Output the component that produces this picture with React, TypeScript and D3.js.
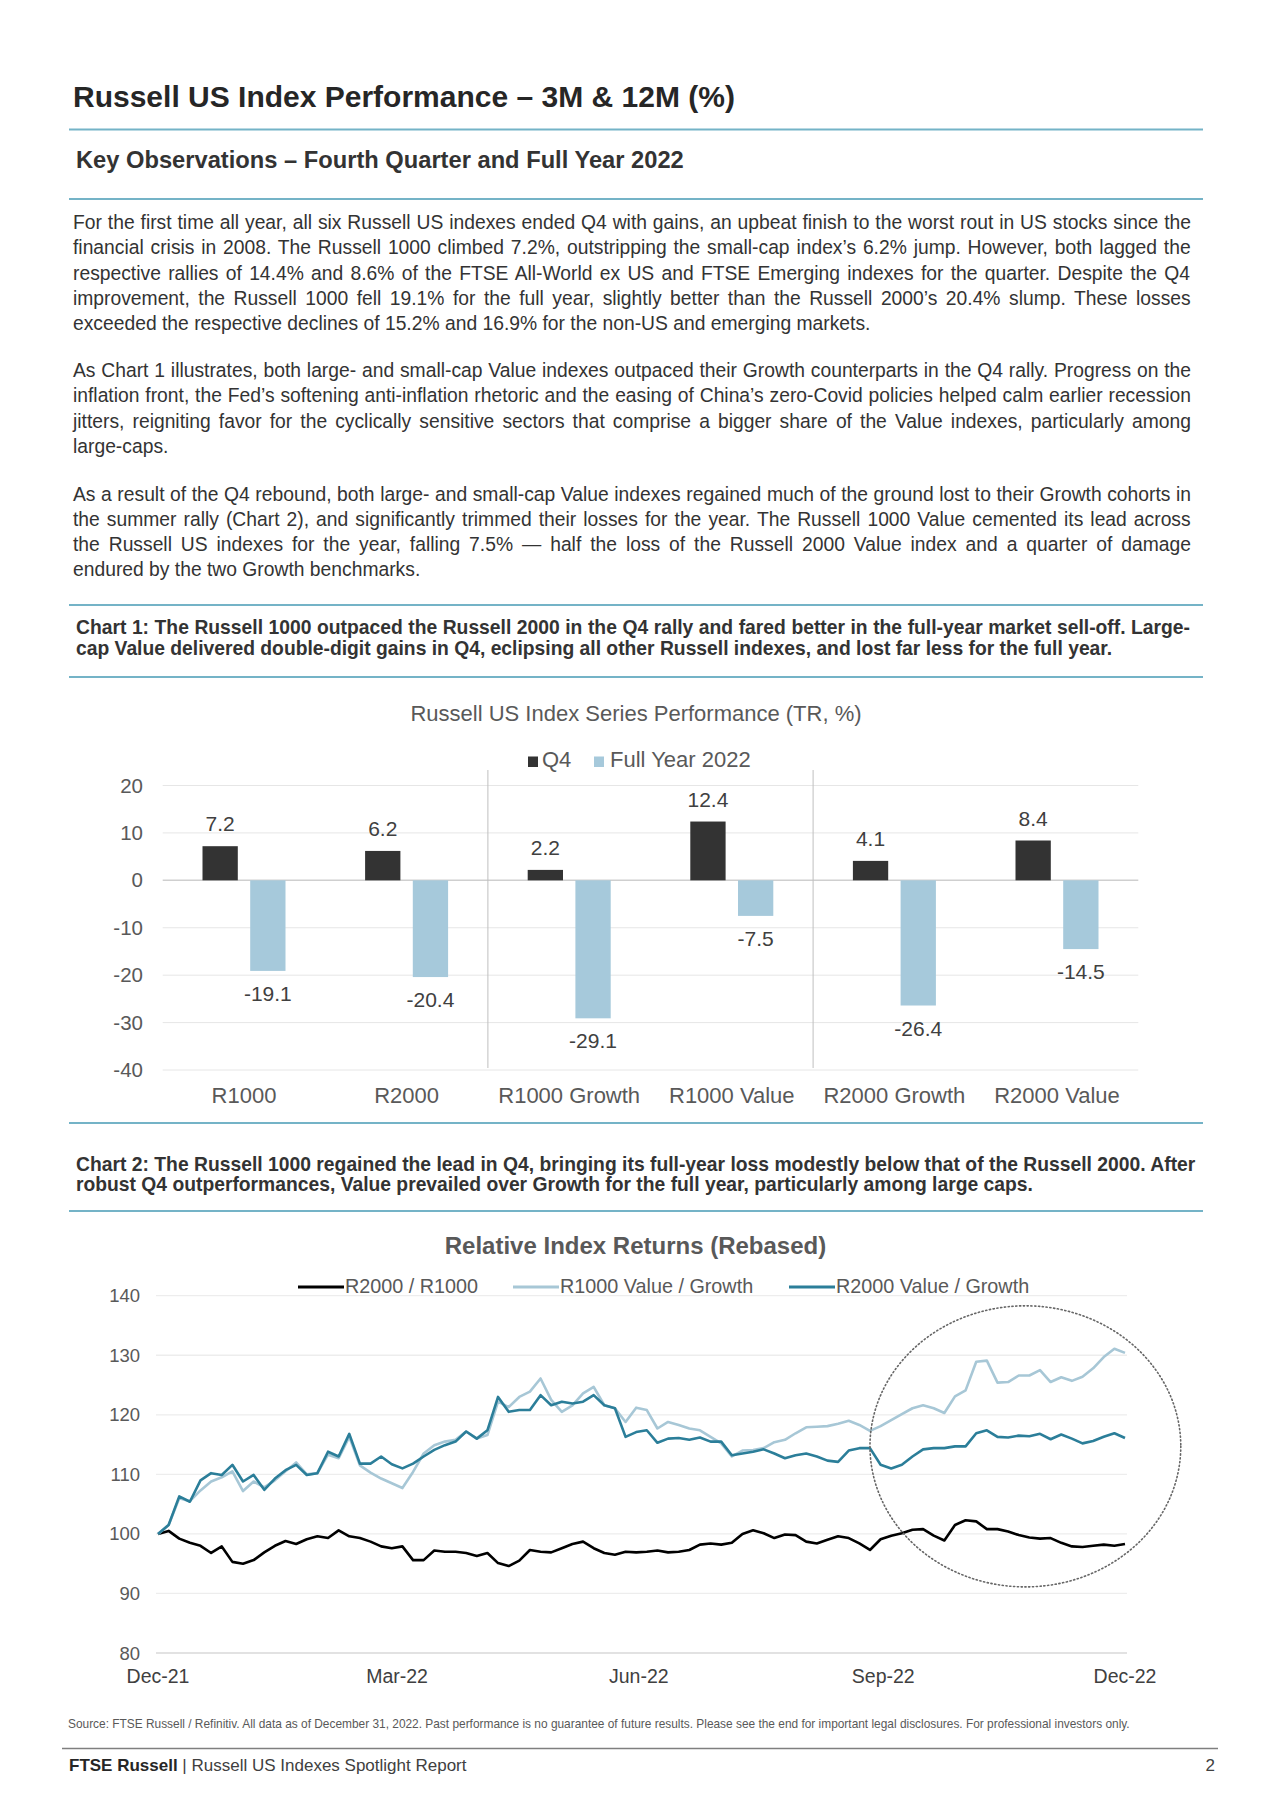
import React from "react";
import * as d3 from "d3";

const W = 1280;
const H = 1811;
const FONT = "'Liberation Sans', Arial, Helvetica, sans-serif";

// ---------- Text ----------
const pageTitle = "Russell US Index Performance – 3M & 12M (%)";
const sectionTitle = "Key Observations – Fourth Quarter and Full Year 2022";
const para1 = [
  "For the first time all year, all six Russell US indexes ended Q4 with gains, an upbeat finish to the worst rout in US stocks since the",
  "financial crisis in 2008. The Russell 1000 climbed 7.2%, outstripping the small-cap index’s 6.2% jump. However, both lagged the",
  "respective rallies of 14.4% and 8.6% of the FTSE All-World ex US and FTSE Emerging indexes for the quarter. Despite the Q4",
  "improvement, the Russell 1000 fell 19.1% for the full year, slightly better than the Russell 2000’s 20.4% slump. These losses",
  "exceeded the respective declines of 15.2% and 16.9% for the non-US and emerging markets.",
];
const para2 = [
  "As Chart 1 illustrates, both large- and small-cap Value indexes outpaced their Growth counterparts in the Q4 rally. Progress on the",
  "inflation front, the Fed’s softening anti-inflation rhetoric and the easing of China’s zero-Covid policies helped calm earlier recession",
  "jitters, reigniting favor for the cyclically sensitive sectors that comprise a bigger share of the Value indexes, particularly among",
  "large-caps.",
];
const para3 = [
  "As a result of the Q4 rebound, both large- and small-cap Value indexes regained much of the ground lost to their Growth cohorts in",
  "the summer rally (Chart 2), and significantly trimmed their losses for the year. The Russell 1000 Value cemented its lead across",
  "the Russell US indexes for the year, falling 7.5% — half the loss of the Russell 2000 Value index and a quarter of damage",
  "endured by the two Growth benchmarks.",
];
const chart1Caption = [
  "Chart 1: The Russell 1000 outpaced the Russell 2000 in the Q4 rally and fared better in the full-year market sell-off. Large-",
  "cap Value delivered double-digit gains in Q4, eclipsing all other Russell indexes, and lost far less for the full year.",
];
const chart2Caption = [
  "Chart 2: The Russell 1000 regained the lead in Q4, bringing its full-year loss modestly below that of the Russell 2000. After",
  "robust Q4 outperformances, Value prevailed over Growth for the full year, particularly among large caps.",
];
const chart1Title = "Russell US Index Series Performance (TR, %)";
const chart2Title = "Relative Index Returns (Rebased)";
const sourceText =
  "Source: FTSE Russell / Refinitiv. All data as of December 31, 2022. Past performance is no guarantee of future results. Please see the end for important legal disclosures. For professional investors only.";

// ---------- Chart 1 data ----------
const barCategories = ["R1000", "R2000", "R1000 Growth", "R1000 Value", "R2000 Growth", "R2000 Value"];
const barSeries = ["Q4", "Full Year 2022"];
const q4Values = [7.2, 6.2, 2.2, 12.4, 4.1, 8.4];
const fullYearValues = [-19.1, -20.4, -29.1, -7.5, -26.4, -14.5];
const barYTicks = [20, 10, 0, -10, -20, -30, -40];
const barGroupBreaks = ["R1000 Growth", "R2000 Growth"];

// ---------- Chart 2 data ----------
const lineDates = [
  "2021-12-31", "2022-01-04", "2022-01-08", "2022-01-12", "2022-01-16", "2022-01-20", "2022-01-24", "2022-01-28",
  "2022-02-01", "2022-02-05", "2022-02-09", "2022-02-13", "2022-02-17", "2022-02-21", "2022-02-25",
  "2022-03-01", "2022-03-05", "2022-03-09", "2022-03-13", "2022-03-17", "2022-03-21", "2022-03-25", "2022-03-29",
  "2022-04-02", "2022-04-06", "2022-04-10", "2022-04-14", "2022-04-18", "2022-04-22", "2022-04-26", "2022-04-30",
  "2022-05-04", "2022-05-08", "2022-05-12", "2022-05-16", "2022-05-20", "2022-05-24", "2022-05-28",
  "2022-06-01", "2022-06-05", "2022-06-09", "2022-06-13", "2022-06-17", "2022-06-21", "2022-06-25", "2022-06-29",
  "2022-07-03", "2022-07-07", "2022-07-11", "2022-07-15", "2022-07-19", "2022-07-23", "2022-07-27", "2022-07-31",
  "2022-08-04", "2022-08-08", "2022-08-12", "2022-08-16", "2022-08-20", "2022-08-24", "2022-08-28",
  "2022-09-01", "2022-09-05", "2022-09-09", "2022-09-13", "2022-09-17", "2022-09-21", "2022-09-25", "2022-09-29",
  "2022-10-03", "2022-10-07", "2022-10-11", "2022-10-15", "2022-10-19", "2022-10-23", "2022-10-27", "2022-10-31",
  "2022-11-04", "2022-11-08", "2022-11-12", "2022-11-16", "2022-11-20", "2022-11-24", "2022-11-28",
  "2022-12-02", "2022-12-06", "2022-12-10", "2022-12-14", "2022-12-18", "2022-12-22", "2022-12-26", "2022-12-30",
];
const r2000VsR1000 = [
  100, 100.5, 99.2, 98.5, 98.0, 96.8, 97.9, 95.3,
  95.0, 95.6, 96.9, 98.0, 98.8, 98.3, 99.1,
  99.6, 99.3, 100.6, 99.6, 99.3, 98.7, 97.9, 97.6,
  97.9, 95.6, 95.6, 97.2, 97.0, 97.0, 96.8, 96.3,
  96.8, 95.1, 94.6, 95.5, 97.3, 97.0, 96.9,
  97.6, 98.3, 98.7, 97.6, 96.8, 96.5, 97.0, 96.9,
  97.0, 97.2, 96.9, 97.0, 97.3, 98.2, 98.4, 98.2,
  98.5, 100.0, 100.6, 100.1, 99.3, 99.9, 99.8,
  98.7, 98.4, 99.0, 99.6, 99.3, 98.4, 97.3, 99.1,
  99.7, 100.1, 100.7, 100.8, 99.7, 98.9, 101.5, 102.3,
  102.1, 100.8, 100.8, 100.4, 99.8, 99.4, 99.2,
  99.3, 98.5, 97.9, 97.8, 98.0, 98.2, 98.0, 98.3,
];
const r1000ValueVsGrowth = [
  100, 101.5, 106.0, 105.5, 107.3, 108.8, 109.5, 110.5,
  107.2, 108.8, 107.8, 109.0, 110.5, 112.0, 110.0,
  110.2, 113.3, 112.7, 116.3, 111.5, 110.3, 109.3, 108.5,
  107.7, 110.4, 113.5, 114.9, 115.5, 115.8, 117.2, 116.0,
  116.6, 122.2, 121.3, 123.0, 123.9, 126.1, 122.5,
  120.5, 121.6, 123.6, 124.7, 121.6, 121.1, 118.8, 121.2,
  120.8, 117.7, 118.8, 118.3, 117.7, 117.4, 116.3, 115.2,
  113.0, 114.0, 114.1, 114.4, 115.4, 115.8, 116.9,
  117.9, 118.0, 118.1, 118.5, 119.0, 118.3, 117.3, 118.1,
  119.1, 120.1, 121.1, 121.6, 121.1, 120.3, 123.1, 124.1,
  128.9, 129.1, 125.4, 125.5, 126.6, 126.6, 127.5,
  125.5, 126.3, 125.7, 126.4, 127.8, 129.7, 131.1, 130.4,
];
const r2000ValueVsGrowth = [
  100, 101.5, 106.3, 105.4, 109.0, 110.2, 109.9, 111.6,
  108.8, 109.9, 107.4, 109.3, 110.7, 111.6, 109.9,
  110.2, 113.8, 113.0, 116.8, 111.8, 111.8, 113.0, 111.7,
  111.0, 111.8, 113.0, 114.1, 114.9, 115.5, 117.2, 116.0,
  117.4, 123.0, 120.5, 120.8, 120.8, 123.3, 121.6,
  122.2, 121.9, 122.2, 123.3, 121.6, 121.1, 116.3, 117.1,
  117.4, 115.3, 116.0, 116.1, 115.8, 116.2, 115.5, 115.5,
  113.2, 113.5, 113.8, 114.2, 113.5, 112.7, 113.2,
  113.5, 113.0, 112.3, 112.1, 114.0, 114.4, 114.4, 111.6,
  111.0, 111.6, 113.0, 114.2, 114.4, 114.4, 114.7, 114.7,
  116.9, 117.4, 116.3, 116.2, 116.5, 116.4, 116.8,
  115.9, 116.7, 116.0, 115.2, 115.6, 116.3, 116.9, 116.1,
];
const lineSeriesNames = ["R2000 / R1000", "R1000 Value / Growth", "R2000 Value / Growth"];
const lineYTicks = [80, 90, 100, 110, 120, 130, 140];
const lineXTicks = ["2021-12-31", "2022-03-31", "2022-06-30", "2022-09-30", "2022-12-30"];
// dotted highlight ellipse around Q4 (date span and value span it encloses)
const highlightStart = "2022-09-25";
const highlightEnd = "2023-01-20";
const highlightRange = [91.1, 138.3];

// ---------- helpers ----------
let measureCtx: CanvasRenderingContext2D | null = null;
function measure(text: string, size: number, weight: number | string) {
  if (!measureCtx) measureCtx = document.createElement("canvas").getContext("2d");
  measureCtx!.font = `${weight} ${size}px ${FONT}`;
  return measureCtx!.measureText(text).width;
}

function Justified(props: {
  lines: string[];
  x: number;
  y: number;
  lh: number;
  width: number;
  size: number;
  weight?: number;
  fill?: string;
}) {
  const { lines, x, y, lh, width, size, weight = 400, fill = "#333" } = props;
  return (
    <g>
      {lines.map((ln, i) => {
        const last = i === lines.length - 1;
        let ws = 0;
        if (!last) {
          const nat = measure(ln, size, weight);
          const spaces = (ln.match(/ /g) || []).length;
          ws = spaces > 0 ? (width - nat) / spaces : 0;
        }
        return (
          <text
            key={i}
            x={x}
            y={y + i * lh}
            fontSize={size}
            fontWeight={weight}
            fill={fill}
            style={{ wordSpacing: `${ws}px` }}
          >
            {ln}
          </text>
        );
      })}
    </g>
  );
}

const RULE = "#74B3C7";

function BarChart() {
  const x0 = d3.scaleBand<string>().domain(barCategories).range([162.7, 1138.3]).padding(0);
  const half = x0.bandwidth() / 2;
  const x1 = d3.scaleBand<string>().domain(barSeries).range([half - 41.5, half + 41.5]).paddingInner(0.26);
  const y = d3.scaleLinear().domain([-40, 20]).range([1070, 785.5]);
  const colors = ["#333333", "#A6C9DB"];
  const series = [q4Values, fullYearValues];
  return (
    <g fontFamily={FONT}>
      <text x={636} y={721} textAnchor="middle" fontSize={22} fill="#595959">
        {chart1Title}
      </text>
      {/* legend */}
      <rect x={528} y={756.5} width={10} height={10.5} fill={colors[0]} />
      <text x={542} y={767} fontSize={22} fill="#595959">{barSeries[0]}</text>
      <rect x={594} y={756.5} width={10} height={10.5} fill={colors[1]} />
      <text x={610} y={767} fontSize={22} fill="#595959">{barSeries[1]}</text>
      {/* grid */}
      {barYTicks.map((t) => (
        <g key={t}>
          <line
            x1={162.7}
            x2={1138.3}
            y1={y(t)}
            y2={y(t)}
            stroke={t === 0 ? "#CFCFCF" : "#E6E6E6"}
            strokeWidth={t === 0 ? 1.5 : 1}
          />
          <text x={143} y={y(t) + 7} textAnchor="end" fontSize={20.5} fill="#595959">
            {t}
          </text>
        </g>
      ))}
      {barGroupBreaks.map((c) => (
        <line key={c} x1={x0(c)!} x2={x0(c)!} y1={770} y2={1068} stroke="#BFBFBF" strokeWidth={1} />
      ))}
      {barCategories.map((c, i) => (
        <g key={c} transform={`translate(${x0(c)},0)`}>
          {barSeries.map((s, j) => {
            const v = series[j][i];
            const top = y(Math.max(0, v));
            const bot = y(Math.min(0, v));
            const cx = x1(s)! + x1.bandwidth() / 2;
            return (
              <g key={s}>
                <rect x={x1(s)} y={top} width={x1.bandwidth()} height={bot - top} fill={colors[j]} />
                <text
                  x={cx}
                  y={v >= 0 ? top - 15 : bot + 30}
                  textAnchor="middle"
                  fontSize={21}
                  fill="#404040"
                >
                  {v.toFixed(1)}
                </text>
              </g>
            );
          })}
          <text x={half} y={1102.5} textAnchor="middle" fontSize={22} fill="#595959">
            {c}
          </text>
        </g>
      ))}
    </g>
  );
}

function LineChart() {
  const parse = d3.timeParse("%Y-%m-%d");
  const dates = lineDates.map((d) => parse(d)!);
  const x = d3
    .scaleTime()
    .domain([parse(lineXTicks[0])!, parse(lineXTicks[lineXTicks.length - 1])!])
    .range([158, 1125]);
  const y = d3.scaleLinear().domain([80, 140]).range([1653, 1295.7]);
  const data = [r2000VsR1000, r1000ValueVsGrowth, r2000ValueVsGrowth];
  const colors = ["#000000", "#A7C7D6", "#2B7E99"];
  const line = d3
    .line<number>()
    .x((_, i) => x(dates[i]))
    .y((v) => y(v));
  const fmt = d3.timeFormat("%b-%y");
  const legendX = [298, 513, 789];
  const hx0 = x(parse(highlightStart)!);
  const hx1 = x(parse(highlightEnd)!);
  const hy0 = y(highlightRange[1]);
  const hy1 = y(highlightRange[0]);
  return (
    <g fontFamily={FONT}>
      <text x={635.5} y={1253.5} textAnchor="middle" fontSize={24} fontWeight={700} fill="#595959">
        {chart2Title}
      </text>
      {lineYTicks.map((t) => (
        <g key={t}>
          <line
            x1={156}
            x2={1127}
            y1={y(t)}
            y2={y(t)}
            stroke={t === 80 ? "#D9D9D9" : "#EDEDED"}
            strokeWidth={1.3}
          />
          <text x={140} y={y(t) + 6.5} textAnchor="end" fontSize={18.5} fill="#595959">
            {t}
          </text>
        </g>
      ))}
      {lineXTicks.map((t) => (
        <text key={t} x={x(parse(t)!)} y={1683} textAnchor="middle" fontSize={19.5} fill="#404040">
          {fmt(parse(t)!)}
        </text>
      ))}
      {lineSeriesNames.map((n, i) => (
        <g key={n}>
          <line x1={legendX[i]} x2={legendX[i] + 46} y1={1287} y2={1287} stroke={colors[i]} strokeWidth={3} />
          <text x={legendX[i] + 47} y={1293} fontSize={19.8} fill="#595959">
            {n}
          </text>
        </g>
      ))}
      {data.map((vals, i) => (
        <path
          key={i}
          d={line(vals)!}
          fill="none"
          stroke={colors[i]}
          strokeWidth={2.6}
          strokeLinejoin="round"
        />
      ))}
      <ellipse
        cx={(hx0 + hx1) / 2}
        cy={(hy0 + hy1) / 2}
        rx={(hx1 - hx0) / 2}
        ry={(hy1 - hy0) / 2}
        fill="none"
        stroke="#666"
        strokeWidth={1.6}
        strokeDasharray="1.2 2.6"
        strokeLinecap="round"
      />
    </g>
  );
}

export default function App() {
  return (
    <svg
      width={W}
      height={H}
      viewBox={`0 0 ${W} ${H}`}
      style={{ position: "absolute", left: 0, top: 0, background: "#fff" }}
      fontFamily={FONT}
    >
      <rect x={0} y={0} width={W} height={H} fill="#fff" />
      <text x={73} y={106.5} fontSize={30} fontWeight={700} fill="#262626">
        {pageTitle}
      </text>
      <line x1={69} x2={1203} y1={129.5} y2={129.5} stroke={RULE} strokeWidth={2} />
      <text x={76} y={167.5} fontSize={23.7} fontWeight={700} fill="#333">
        {sectionTitle}
      </text>
      <line x1={69} x2={1203} y1={199} y2={199} stroke={RULE} strokeWidth={2} />

      <Justified lines={para1} x={73} y={229} lh={25.3} width={1118} size={19.3} />
      <Justified lines={para2} x={73} y={377} lh={25.3} width={1118} size={19.3} />
      <Justified lines={para3} x={73} y={500.5} lh={25.3} width={1118} size={19.3} />

      <line x1={69} x2={1203} y1={605} y2={605} stroke={RULE} strokeWidth={2} />
      <Justified lines={chart1Caption} x={76} y={634} lh={20.8} width={1114} size={19.3} weight={700} fill="#333" />
      <line x1={69} x2={1203} y1={677} y2={677} stroke={RULE} strokeWidth={2} />

      <BarChart />

      <line x1={69} x2={1203} y1={1123} y2={1123} stroke={RULE} strokeWidth={2} />
      <Justified lines={chart2Caption} x={76} y={1170.5} lh={20.8} width={1120} size={19.3} weight={700} fill="#333" />
      <line x1={69} x2={1203} y1={1211} y2={1211} stroke={RULE} strokeWidth={2} />

      <LineChart />

      <text x={68} y={1727.5} fontSize={11.9} fill="#595959">
        {sourceText}
      </text>
      <line x1={62} x2={1218} y1={1748.5} y2={1748.5} stroke="#7F7F7F" strokeWidth={1.5} />
      <text x={69} y={1771} fontSize={17} fill="#404040">
        <tspan fontWeight={700} fill="#262626">FTSE Russell</tspan>
        <tspan> | Russell US Indexes Spotlight Report</tspan>
      </text>
      <text x={1215} y={1771} fontSize={17} textAnchor="end" fill="#404040">
        2
      </text>
    </svg>
  );
}
